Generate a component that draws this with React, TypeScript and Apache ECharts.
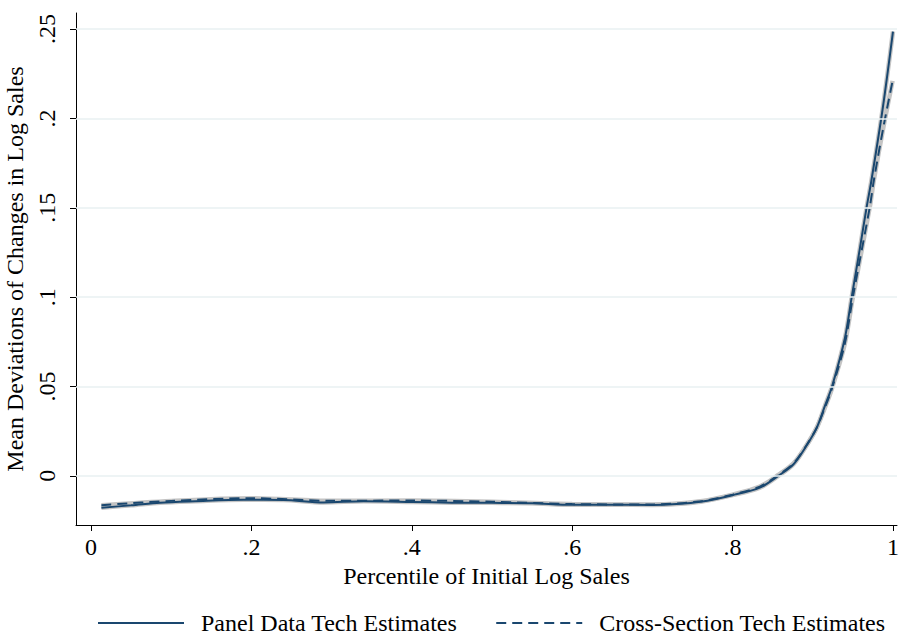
import React, { useEffect, useRef } from "react";
import * as echarts from "echarts";

const panelX = [0.013, 0.05, 0.086, 0.13, 0.19, 0.24, 0.29, 0.34, 0.4, 0.45, 0.5, 0.55, 0.6, 0.65, 0.7, 0.73, 0.76, 0.8, 0.834, 0.857, 0.876, 0.892, 0.905, 0.915, 0.924, 0.94, 0.9485, 0.959, 0.967, 0.973, 0.987, 1.0];
const panelY = [-0.0178, -0.0165, -0.015, -0.0142, -0.0134, -0.0135, -0.0149, -0.0142, -0.0146, -0.015, -0.0151, -0.0153, -0.0162, -0.0161, -0.0163, -0.0158, -0.0145, -0.0108, -0.0066, 0.0, 0.0065, 0.0168, 0.027, 0.039, 0.05, 0.077, 0.1, 0.128, 0.15, 0.165, 0.205, 0.2486];

const crossX = [0.013, 0.1, 0.2, 0.3, 0.4, 0.5, 0.6, 0.7, 0.76, 0.8, 0.834, 0.857, 0.876, 0.892, 0.905, 0.915, 0.924, 0.94, 0.95, 0.9713, 0.976, 0.988, 0.9995];
const crossY = [-0.0164, -0.014, -0.0125, -0.014, -0.0138, -0.0145, -0.0158, -0.016, -0.0142, -0.0105, -0.006, 0.0005, 0.007, 0.017, 0.027, 0.038, 0.049, 0.074, 0.1, 0.151, 0.165, 0.195, 0.221];

const xTicks = [0, 0.2, 0.4, 0.6, 0.8, 1];
const yTicks = [0, 0.05, 0.1, 0.15, 0.2, 0.25];

const seriesNames = ["Panel Data Tech Estimates", "Cross-Section Tech Estimates"];

const FONT = "Liberation Serif";
const NAVY = "#1a476f";
const FS = 24;

const fmt = (v: number) => {
  const r = Math.round(v * 1000) / 1000;
  if (r === 0) return "0";
  if (r === 1) return "1";
  return String(r).replace(/^0\./, ".");
};

const zip = (xs: number[], ys: number[]) => xs.map((x, i) => [x, ys[i]]);

export default function App() {
  const ref = useRef<HTMLDivElement>(null);
  useEffect(() => {
    if (!ref.current) return;
    const chart = echarts.init(ref.current, null, { renderer: "svg" });
    chart.setOption({
      animation: false,
      backgroundColor: "#fff",
      grid: { left: 76, right: 2, top: 13, bottom: 111, containLabel: false, outerBoundsMode: "none" },
      legend: {
        data: seriesNames,
        top: 610,
        left: 97,
        padding: 0,
        itemWidth: 86,
        itemHeight: 14,
        itemGap: 38,
        itemStyle: { opacity: 0 },
        textStyle: { fontFamily: FONT, fontSize: FS, lineHeight: 26, color: "#000", padding: [0, 0, 0, 12] },
      },
      xAxis: {
        type: "value",
        min: -0.0187,
        max: 1.005,
        name: "Percentile of Initial Log Sales",
        nameLocation: "middle",
        nameGap: 39,
        nameTextStyle: { fontFamily: FONT, fontSize: FS, color: "#000" },
        axisLine: { show: true, onZero: false, lineStyle: { color: "#000", width: 1 } },
        axisTick: { show: true, length: 6, lineStyle: { color: "#000" }, customValues: xTicks },
        axisLabel: { customValues: xTicks, formatter: fmt, fontFamily: FONT, fontSize: FS, color: "#000", margin: 10 },
        splitLine: { show: false },
      },
      yAxis: {
        type: "value",
        min: -0.0275,
        max: 0.259,
        name: "Mean Deviations of Changes in Log Sales",
        nameLocation: "middle",
        nameGap: 27,
        nameRotate: 90,
        nameTextStyle: { fontFamily: FONT, fontSize: FS, color: "#000" },
        axisLine: { show: true, onZero: false, lineStyle: { color: "#000", width: 1 } },
        axisTick: { show: true, length: 6, lineStyle: { color: "#000" }, customValues: yTicks },
        axisLabel: { customValues: yTicks, formatter: fmt, rotate: 90, fontFamily: FONT, fontSize: FS, color: "#000", margin: 17 },
        splitLine: { show: false },
      },
      series: [
        {
          name: "grid",
          type: "line",
          data: [],
          silent: true,
          markLine: {
            silent: true,
            symbol: "none",
            label: { show: false },
            lineStyle: { color: "#e8f0f2", width: 1.5, type: "solid" },
            data: yTicks.map((v) => ({ yAxis: v })),
          },
        },
        {
          name: "panelShade",
          type: "line",
          data: zip(panelX, panelY),
          smooth: 0.3,
          symbol: "none",
          silent: true,
          lineStyle: { color: "#c4c4c4", width: 4.5 },
          z: 1,
        },
        {
          name: "crossShade",
          type: "line",
          data: zip(crossX, crossY),
          smooth: 0.3,
          symbol: "none",
          silent: true,
          lineStyle: { color: "#c4c4c4", width: 4.5 },
          z: 1,
        },
        {
          name: seriesNames[0],
          type: "line",
          data: zip(panelX, panelY),
          smooth: 0.3,
          symbol: "none",
          showSymbol: false,
          color: NAVY,
          lineStyle: { color: NAVY, width: 2 },
          z: 3,
        },
        {
          name: seriesNames[1],
          type: "line",
          data: zip(crossX, crossY),
          smooth: 0.3,
          symbol: "none",
          showSymbol: false,
          color: NAVY,
          lineStyle: { color: NAVY, width: 2, type: [10, 6] },
          z: 4,
        },
      ],
    });
    return () => chart.dispose();
  }, []);
  return <div ref={ref} style={{ position: "fixed", left: 0, top: 0, width: 899, height: 636 }} />;
}
